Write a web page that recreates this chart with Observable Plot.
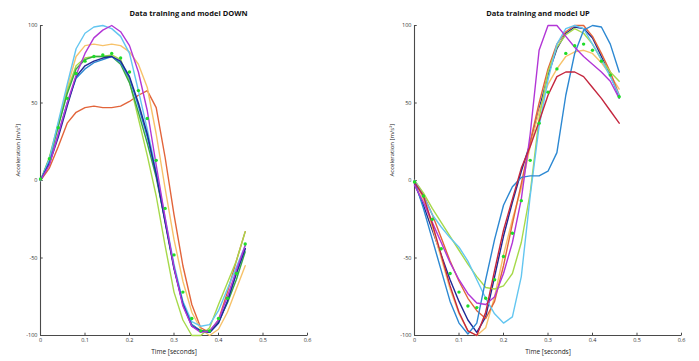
<!DOCTYPE html>
<html>
<head>
<meta charset="utf-8">
<script src="https://cdn.jsdelivr.net/npm/d3@7"></script>
<script src="https://cdn.jsdelivr.net/npm/@observablehq/plot@0.6"></script>
<style>
  html, body { margin: 0; padding: 0; background: #fff; }
  #wrap { position: relative; width: 699px; height: 361px; overflow: hidden; }
  #wrap > div, #wrap > svg { position: absolute; top: 0; }
</style>
</head>
<body>
<div id="wrap"></div>
<script>
// ---- data ----
const time = [0, 0.02, 0.04, 0.06, 0.08, 0.10, 0.12, 0.14, 0.16, 0.18, 0.20, 0.22,
              0.24, 0.26, 0.28, 0.30, 0.32, 0.34, 0.36, 0.38, 0.40, 0.42, 0.44, 0.46];
const xTicks = [0, 0.1, 0.2, 0.3, 0.4, 0.5, 0.6];
const yTicks = [-100, -50, 0, 50, 100];

// DOWN panel
const downOrangeRed  = [0, 8, 22, 37, 44, 47, 48, 47, 47, 48, 51, 55, 58, 47, 15, -22, -55, -80, -95, -98, -90, -72, -52, -33];
const downLightOrange= [0, 12, 35, 60, 80, 87, 88, 87, 88, 87, 83, 75, 60, 30, -5, -38, -65, -85, -96, -100, -96, -85, -70, -55];
const downSky        = [0, 14, 38, 62, 85, 95, 99, 100, 98, 93, 82, 58, 33, 6, -24, -54, -78, -91, -94, -93, -84, -70, -56, -42];
const downPurple     = [0, 10, 30, 50, 68, 82, 92, 97, 100, 96, 87, 70, 45, 10, -24, -56, -81, -94, -98, -97, -90, -75, -58, -42];
const downNavy       = [0, 11, 28, 48, 67, 74, 77, 79, 80, 77, 67, 50, 30, 4, -27, -57, -80, -94, -97, -98, -92, -78, -60, -44];
const downBlue       = [0, 12, 30, 50, 66, 72, 76, 78, 80, 76, 66, 48, 28, 4, -26, -56, -79, -93, -97, -98, -92, -78, -60, -44];
const downGreen      = [0, 14, 35, 56, 72, 78, 80, 80, 80, 75, 63, 44, 24, 2, -26, -56, -79, -93, -97, -97, -91, -79, -64, -46];
const downYellowGreen= [0, 15, 37, 58, 74, 79, 80, 80, 81, 78, 64, 40, 16, -10, -42, -72, -90, -100, -100, -95, -80, -66, -52, -33];
const downModel      = [1, 14, 34, 53, 69, 77, 80, 81, 82, 79, 70, 58, 40, 13, -18, -48, -72, -89, -97, -97, -89, -76, -60, -41];

// UP panel
const upRed          = [-1, -10, -28, -48, -68, -85, -97, -100, -85, -58, -32, -12, 8, 22, 38, 55, 67, 70, 70, 67, 60, 53, 45, 37];
const upOrange       = [0, -9, -22, -37, -52, -65, -76, -84, -89, -78, -55, -28, -2, 25, 50, 72, 88, 96, 100, 100, 93, 82, 70, 55];
const upLightOrange  = [0, -12, -30, -50, -70, -86, -97, -100, -95, -75, -48, -25, -5, 22, 45, 62, 72, 80, 83, 84, 82, 76, 68, 59];
const upSky          = [0, -10, -22, -30, -37, -43, -52, -64, -76, -86, -92, -88, -62, -10, 35, 65, 88, 98, 100, 98, 88, 78, 67, 55];
const upPurple       = [-3, -14, -27, -40, -53, -64, -73, -79, -80, -75, -60, -40, -12, 30, 84, 100, 100, 93, 86, 80, 75, 70, 64, 53];
const upNavy         = [-2, -16, -32, -48, -64, -78, -90, -98, -88, -62, -36, -14, 6, 24, 46, 68, 85, 95, 99, 98, 92, 80, 68, 54];
const upBlue         = [0, -18, -38, -58, -78, -92, -99, -92, -64, -38, -16, -4, 2, 3, 3, 6, 18, 55, 82, 97, 100, 99, 88, 70];
const upYellowGreen  = [0, -8, -18, -27, -36, -45, -54, -62, -69, -70, -68, -60, -40, -8, 40, 70, 86, 94, 98, 95, 88, 78, 70, 64];
const upModel        = [-1, -10, -25, -44, -60, -72, -81, -82, -76, -64, -49, -34, -13, 13, 37, 57, 72, 82, 87, 88, 84, 77, 68, 54];

// series keys and colours
const seriesKeys   = ["orangeRed", "lightOrange", "yellowGreen", "green", "sky", "blue", "navy", "purple", "red"];
const seriesColors = ["#e2643a", "#f7c26a", "#a6d94a", "#37a843", "#63c6f0", "#2c88d2", "#1f2a96", "#b236d6", "#c4263e"];

const downSeries = [
  {key: "orangeRed", values: downOrangeRed},
  {key: "lightOrange", values: downLightOrange},
  {key: "yellowGreen", values: downYellowGreen},
  {key: "green", values: downGreen},
  {key: "sky", values: downSky},
  {key: "blue", values: downBlue},
  {key: "navy", values: downNavy},
  {key: "purple", values: downPurple}
];
const upSeries = [
  {key: "navy", values: upNavy},
  {key: "lightOrange", values: upLightOrange},
  {key: "orangeRed", values: upOrange},
  {key: "yellowGreen", values: upYellowGreen},
  {key: "sky", values: upSky},
  {key: "blue", values: upBlue},
  {key: "purple", values: upPurple},
  {key: "red", values: upRed}
];

function panel({series, model, title, width, marginLeft, marginRight, titleDx}) {
  const rows = series.flatMap(s => s.values.map((v, i) => ({t: time[i], v, s: s.key})));
  const modelRows = model.map((v, i) => ({t: time[i], v}));
  const axisColor = "#4a4a4a";
  return Plot.plot({
    width, height: 361,
    marginLeft, marginRight, marginTop: 25, marginBottom: 26,
    x: {domain: [0, 0.6]},
    y: {domain: [-100, 100]},
    color: {domain: seriesKeys, range: seriesColors},
    style: {fontFamily: "'Open Sans', 'Liberation Sans', sans-serif", fontSize: "5.5px", background: "white", color: "#333"},
    marks: [
      Plot.ruleX([0], {y1: -100, y2: 100, stroke: axisColor, strokeWidth: 1.1}),
      Plot.ruleY([-100], {x1: 0, x2: 0.6, stroke: axisColor, strokeWidth: 1.1}),
      Plot.link(xTicks, {x1: d => d, x2: d => d, y1: -100, y2: -98.2, stroke: axisColor}),
      Plot.link(yTicks, {x1: 0, x2: 0.005, y1: d => d, y2: d => d, stroke: axisColor}),
      Plot.axisX({ticks: xTicks, tickSize: 0, tickPadding: 3, tickFormat: d => String(d), label: null}),
      Plot.axisY({ticks: yTicks, tickSize: 0, tickPadding: 3, tickFormat: d => String(d), label: null}),
      Plot.line(rows, {x: "t", y: "v", z: "s", stroke: "s", strokeWidth: 1.4, curve: "linear"}),
      Plot.dot(modelRows, {x: "t", y: "v", r: 1.7, fill: "#1fdc2a", stroke: "none"}),
      Plot.text([title], {frameAnchor: "top", dy: -14.5, dx: titleDx, fontSize: 7.5, fontWeight: "bold", fill: "#111"}),
      Plot.text(["Time [seconds]"], {frameAnchor: "bottom", dy: 18, fontSize: 6.5, fill: "#222"}),
      Plot.text(["Acceleration [m/s²]"], {frameAnchor: "left", rotate: -90, dx: -22, dy: -4, fontSize: 6, fill: "#222"})
    ]
  });
}

const wrap = document.getElementById("wrap");
const left = panel({series: downSeries, model: downModel, title: "Data training and model DOWN",
                    width: 350, marginLeft: 40, marginRight: 43, titleDx: 14.5});
left.style.left = "0px";
const right = panel({series: upSeries, model: upModel, title: "Data training and model UP",
                     width: 349, marginLeft: 64, marginRight: 18, titleDx: -10});
right.style.left = "350px";
wrap.appendChild(left);
wrap.appendChild(right);
</script>
</body>
</html>
